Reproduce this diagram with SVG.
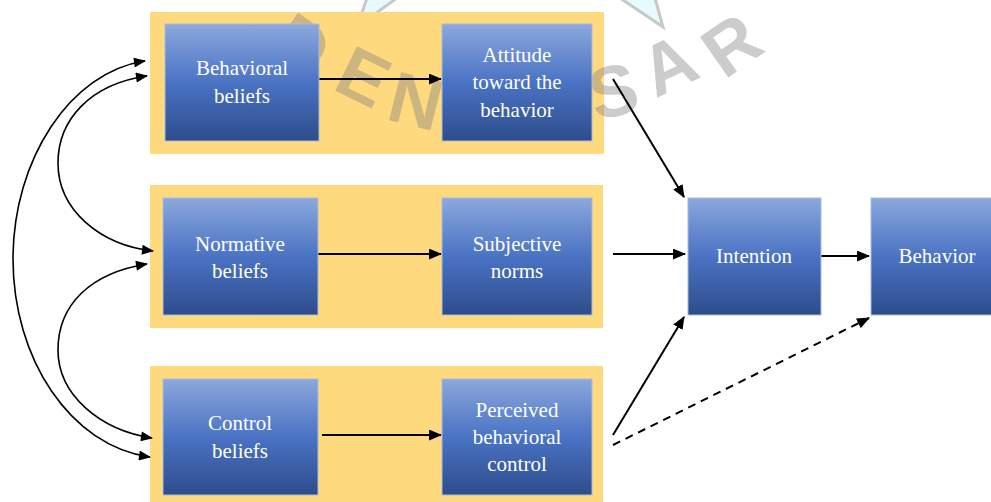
<svg xmlns="http://www.w3.org/2000/svg" width="991" height="502" viewBox="0 0 991 502">
<defs>
<style>
.band{fill:#FFD97E}
.box{fill:url(#blue);stroke:#A8BCE2;stroke-width:1}
.lbl{font-family:"Liberation Sans",Arial,sans-serif;font-family:"Liberation Serif","Times New Roman",serif;font-size:21px;fill:#FFFFFF;text-anchor:middle}
.arr{stroke:#000;stroke-width:2;fill:none;marker-end:url(#ah)}
.dash{stroke:#000;stroke-width:2;fill:none;stroke-dasharray:8,6;marker-end:url(#ah)}
.curve{stroke:#000;stroke-width:1.6;fill:none;marker-start:url(#ah2);marker-end:url(#ah2)}
.wm{font-family:"Liberation Sans",Arial,sans-serif;font-weight:bold;font-size:72px;fill:#808080;fill-opacity:0.4;text-anchor:middle}
.logo{fill:#E6FAFF;stroke:#BBBBBB;stroke-width:3;stroke-opacity:0.8}
</style>
<linearGradient id="blue" x1="0" y1="0" x2="0" y2="1">
<stop offset="0" stop-color="#8CA8DC"/>
<stop offset="0.5" stop-color="#4A73C4"/>
<stop offset="1" stop-color="#2E4C8B"/>
</linearGradient>
<marker id="ah" viewBox="0 0 12 10" refX="11" refY="5" markerUnits="userSpaceOnUse" markerWidth="13" markerHeight="11" orient="auto">
<path d="M0,0 L12,5 L0,10 Z" fill="#000"/>
</marker>
<marker id="ah2" viewBox="0 0 12 10" refX="11" refY="5" markerUnits="userSpaceOnUse" markerWidth="13" markerHeight="10" orient="auto-start-reverse">
<path d="M0,0 L12,5 L0,10 Z" fill="#000"/>
</marker>
</defs>
<rect width="991" height="502" fill="#FFFFFF"/>
<g id="logo">
<polygon class="logo" points="357,27 367,-2 397,-2"/>
<polygon class="logo" points="663,27 620,-2 655,-2"/>
</g>
<g id="bands">
<rect class="band" x="150" y="12" width="454" height="142"/>
<rect class="band" x="150" y="185" width="453" height="143"/>
<rect class="band" x="150" y="366" width="453" height="140"/>
</g>
<g id="watermark">
<text class="wm" transform="translate(302,44) rotate(35)" x="0" y="26">D</text>
<text class="wm" transform="translate(364,76) rotate(26)" x="0" y="26">E</text>
<text class="wm" transform="translate(416,100) rotate(14)" x="0" y="26">N</text>
<text class="wm" transform="translate(613,90) rotate(-14)" x="0" y="26">S</text>
<text class="wm" transform="translate(668,64) rotate(-25)" x="0" y="26">A</text>
<text class="wm" transform="translate(731,44) rotate(-35)" x="0" y="26">R</text>
</g>
<g id="connectors">
<line class="arr" x1="319" y1="79" x2="441" y2="79"/>
<line class="arr" x1="318" y1="254" x2="441" y2="254"/>
<line class="arr" x1="322" y1="435" x2="441" y2="435"/>
<line class="arr" x1="613" y1="79" x2="684" y2="197"/>
<line class="arr" x1="613" y1="254" x2="685" y2="254"/>
<line class="arr" x1="613" y1="435" x2="684" y2="317"/>
<line class="arr" x1="821" y1="256" x2="869" y2="256"/>
<line class="dash" x1="613" y1="445" x2="869" y2="318"/>
<path class="curve" d="M145,61 C70,72 13,160 13,259 C13,358 70,446 150,457"/>
<path class="curve" d="M147,76 C90,84 58,120 58,163 C58,210 100,245 153,251"/>
<path class="curve" d="M147,264 C90,273 58,305 58,350 C58,395 100,430 152,438"/>
</g>
<g id="behavioral-beliefs">
<rect class="box" x="165" y="24" width="154" height="117"/>
<text class="lbl" x="242" y="75">Behavioral</text>
<text class="lbl" x="242" y="103">beliefs</text>
</g>
<g id="attitude">
<rect class="box" x="442" y="24" width="150" height="117"/>
<text class="lbl" x="517" y="62">Attitude</text>
<text class="lbl" x="517" y="89">toward the</text>
<text class="lbl" x="517" y="117">behavior</text>
</g>
<g id="normative-beliefs">
<rect class="box" x="163" y="198" width="155" height="117"/>
<text class="lbl" x="240" y="251">Normative</text>
<text class="lbl" x="240" y="278">beliefs</text>
</g>
<g id="subjective-norms">
<rect class="box" x="442" y="198" width="150" height="117"/>
<text class="lbl" x="517" y="251">Subjective</text>
<text class="lbl" x="517" y="278">norms</text>
</g>
<g id="control-beliefs">
<rect class="box" x="163" y="379" width="155" height="116"/>
<text class="lbl" x="240" y="430">Control</text>
<text class="lbl" x="240" y="458">beliefs</text>
</g>
<g id="perceived-control">
<rect class="box" x="442" y="379" width="150" height="116"/>
<text class="lbl" x="517" y="417">Perceived</text>
<text class="lbl" x="517" y="444">behavioral</text>
<text class="lbl" x="517" y="471">control</text>
</g>
<g id="intention">
<rect class="box" x="688" y="198" width="133" height="117"/>
<text class="lbl" x="754" y="263">Intention</text>
</g>
<g id="behavior">
<rect class="box" x="871" y="198" width="133" height="117"/>
<text class="lbl" x="937" y="263">Behavior</text>
</g>
</svg>
